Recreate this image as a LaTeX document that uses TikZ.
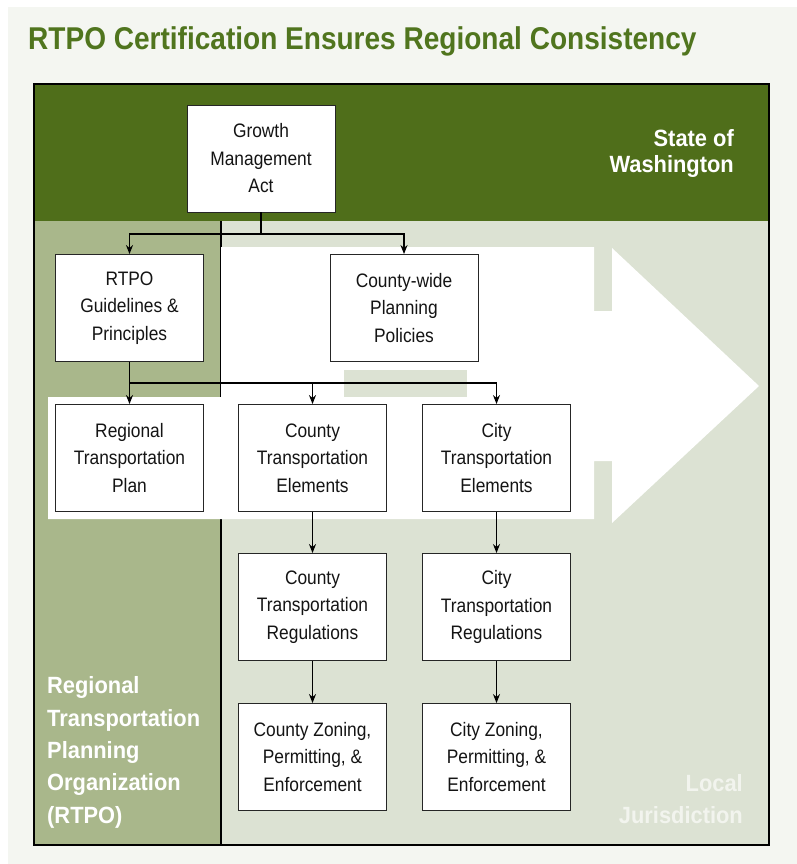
\documentclass[tikz,border=0pt]{standalone}
\usepackage{fontspec}
\setmainfont{Liberation Sans}[FakeStretch=0.89]
\newfontfamily\lblfont{Liberation Sans}[FakeStretch=0.93]
\usetikzlibrary{arrows.meta}
\definecolor{bgc}{HTML}{F4F6F1}
\definecolor{darkg}{HTML}{4F6E1A}
\definecolor{titleg}{HTML}{50751E}
\definecolor{olive}{HTML}{A9B78B}
\definecolor{lightg}{HTML}{DCE2D3}
\definecolor{localc}{HTML}{F2F4EE}
\begin{document}
\begin{tikzpicture}[x=1pt,y=-1pt,
  box/.style={draw=black!85, line width=0.9pt, fill=white, minimum width=148pt, minimum height=107pt, inner sep=0pt, align=center, font=\fontsize{19.5}{27.5}\selectfont, text=black!92},
  conn/.style={line width=1.2pt, -{Stealth[length=9pt,width=7pt]}},
  lbl/.style={inner sep=0pt, text=white, font=\lblfont\bfseries\fontsize{23.5}{26.7}\selectfont}]
\useasboundingbox (0,0) rectangle (797,864);
\fill[white] (0,0) rectangle (797,864);
\fill[bgc] (8,7) rectangle (797,864);
% regions
\fill[darkg] (34,84) rectangle (769,221);
\fill[olive] (34,221) rectangle (220,845);
\fill[lightg] (220,221) rectangle (769,845);
\draw[line width=2pt] (220.5,221) -- (220.5,845);
% white arrow
\fill[white] (221,247) -- (594,247) -- (594,311) -- (612,311) -- (612,248) -- (759,386) -- (612,523) -- (612,461) -- (594,461) -- (594,519) -- (48,519) -- (48,397) -- (221,397) -- cycle;
\fill[lightg] (344,370) rectangle (467,397);
\draw[line width=2.5pt] (34,84) rectangle (769,845);
% title
\node[anchor=base west, inner sep=0pt, text=titleg, font=\bfseries\fontsize{31.5}{36}\selectfont] (title) at (28,49.3) {RTPO Certification Ensures Regional Consistency};
% labels (base anchor = last line's baseline)
\node[lbl, anchor=base east, align=right] (state) at (734,172.7) {State of\\Washington};
\node[lbl, anchor=base west, align=left, font=\lblfont\bfseries\fontsize{23.5}{32.3}\selectfont] (rtpolbl) at (47,823) {Regional\\Transportation\\Planning\\Organization\\(RTPO)};
\node[lbl, anchor=base east, align=right, text=localc, font=\lblfont\bfseries\fontsize{23.5}{31.6}\selectfont] (local) at (743,823.3) {Local\\Jurisdiction};
% boxes
\node[box] (gma) at (261,158.5) {Growth\\Management\\Act};
\node[box] (rtpo) at (129.5,308) {RTPO\\Guidelines \&\\Principles};
\node[box] (cwpp) at (404,308) {County-wide\\Planning\\Policies};
\node[box] (rtp) at (129.5,458) {Regional\\Transportation\\Plan};
\node[box] (cte) at (312.5,458) {County\\Transportation\\Elements};
\node[box] (yte) at (496.5,458) {City\\Transportation\\Elements};
\node[box] (ctr) at (312.5,607) {County\\Transportation\\Regulations};
\node[box] (ytr) at (496.5,607) {City\\Transportation\\Regulations};
\node[box] (czp) at (312.5,757) {County Zoning,\\Permitting, \&\\Enforcement};
\node[box] (yzp) at (496.5,757) {City Zoning,\\Permitting, \&\\Enforcement};
% connectors
\draw[conn] (gma.south) -- ++(0,21.5) -| (rtpo.north);
\draw[conn] (gma.south) -- ++(0,21.5) -| (cwpp.north);
\draw[conn] (rtpo.south) -- (rtp.north);
\draw[conn] (rtpo.south) -- ++(0,21) -| (cte.north);
\draw[conn] (rtpo.south) -- ++(0,21) -| (yte.north);
\draw[conn] (cte) -- (ctr);
\draw[conn] (yte) -- (ytr);
\draw[conn] (ctr) -- (czp);
\draw[conn] (ytr) -- (yzp);
\end{tikzpicture}
\end{document}
